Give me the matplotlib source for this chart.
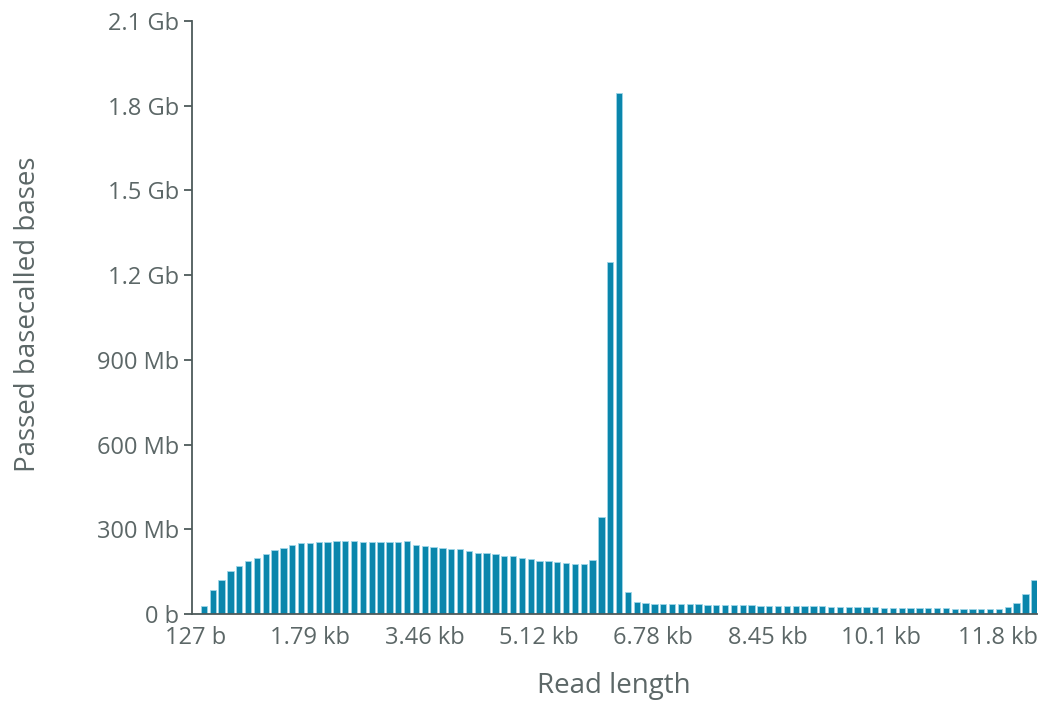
import matplotlib
matplotlib.use("Agg")
import matplotlib.pyplot as plt
import numpy as np

# ---- data (Mb per length bin) ----
bin_start = 179.0      # bases, left edge of first bin
bin_width = 128.5      # bases per bin
passed_mb = [
    27, 86, 120, 153, 171, 188, 200, 214, 227, 235,
    243, 250, 251, 255, 255, 257, 260, 259, 256, 256,
    255, 255, 255, 257, 245, 242, 239, 234, 230, 229,
    224, 217, 216, 211, 205, 204, 199, 195, 189, 188,
    185, 181, 178, 178, 192, 343, 1248, 1844,
    77, 41, 38, 37, 36, 35, 35, 34, 34, 33,
    33, 32, 32, 31, 31, 30, 30, 29, 29, 28,
    28, 27, 27, 26, 26, 25, 25, 24, 24, 23,
    23, 22, 22, 21, 21, 20, 20, 19, 19, 18,
    18, 18, 19, 26, 40, 72, 121,
]
x_tick_values = [127, 1790, 3460, 5120, 6780, 8450, 10100, 11800]
x_tick_labels = ["127 b", "1.79 kb", "3.46 kb", "5.12 kb", "6.78 kb", "8.45 kb", "10.1 kb", "11.8 kb"]
y_tick_values = [0, 300, 600, 900, 1200, 1500, 1800, 2100]
y_tick_labels = ["0 b", "300 Mb", "600 Mb", "900 Mb", "1.2 Gb", "1.5 Gb", "1.8 Gb", "2.1 Gb"]

plt.rcParams['font.family'] = ['Open Sans', 'DejaVu Sans']

fig = plt.figure(figsize=(10.45, 7.03), dpi=100)
ax = fig.add_axes([192/1045, 1 - 614/703, (1037-192)/1045, (614-21)/703])

centers = bin_start + (np.arange(len(passed_mb)) + 0.5) * bin_width
ax.bar(centers, passed_mb, width=bin_width*0.72, color="#0a86ac",
       edgecolor="#9fd6e8", linewidth=0.6)

ax.set_xlim(69, 12363)
ax.set_ylim(0, 2100)

axis_col = "#4d5a5a"
text_col = "#5c6767"
for s in ["top", "right"]:
    ax.spines[s].set_visible(False)
ax.spines["left"].set_color(axis_col)
ax.spines["bottom"].set_color(axis_col)
ax.spines["left"].set_linewidth(1.3)
ax.spines["bottom"].set_linewidth(1.3)

ax.set_yticks(y_tick_values)
ax.set_yticklabels(y_tick_labels)
ax.set_xticks(x_tick_values)
ax.set_xticklabels(x_tick_labels)
ax.tick_params(axis="y", length=6, width=1.3, color=axis_col, labelcolor=text_col,
               labelsize=17, pad=3)
ax.tick_params(axis="x", length=0, labelcolor=text_col, labelsize=17, pad=9)

ax.set_xlabel("Read length", fontsize=20, color=text_col)
ax.set_ylabel("Passed basecalled bases", fontsize=20, color=text_col)
ax.xaxis.set_label_coords((614 - 192) / 845, (614 - 686) / 593)
ax.xaxis.label.set_va("center")
ax.yaxis.set_label_coords((28 - 192) / 845, (614 - 314) / 593)
ax.yaxis.label.set_va("center")

fig.savefig("out.png", dpi=100, facecolor="white")
